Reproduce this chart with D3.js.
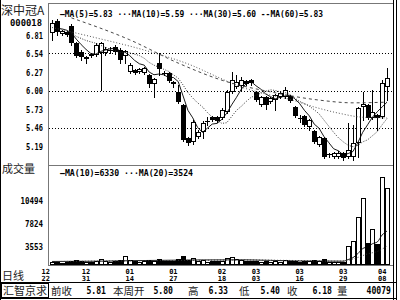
<!DOCTYPE html>
<html lang="zh">
<head>
<meta charset="UTF-8">
<script src="https://d3js.org/d3.v7.min.js"></script>
<title>深中冠A</title>
<style>
  body{margin:0;background:#fff;}
  svg{display:block;}
  .num{font-family:"DejaVu Sans Mono",monospace;font-weight:bold;fill:#000;}
  .cjk{font-family:"Noto Sans CJK SC",sans-serif;fill:#222;}
</style>
<script>
// daily candles, 12/22 .. 04/08
var open  = [6.84,7.01,6.82,6.85,6.94,6.69,6.56,6.46,6.53,6.52,6.55,6.55,6.58,6.63,6.59,6.50,6.27,6.30,6.27,6.26,
             6.23,6.09,6.40,6.26,6.26,6.12,5.98,5.79,5.31,5.25,5.32,5.39,5.54,5.61,5.61,5.60,5.69,5.98,6.05,6.07,
             6.14,6.15,5.98,5.79,5.90,5.83,5.86,5.90,5.90,5.92,5.76,5.60,5.63,5.47,5.41,5.20,5.31,5.06,5.03,5.03,
             5.09,5.03,5.03,5.23,5.76,5.79,5.60,5.64,5.61,6.05];
var close = [6.99,6.85,6.87,6.81,6.69,6.50,6.49,6.49,6.50,6.66,6.69,6.61,6.59,6.56,6.45,6.58,6.37,6.26,6.31,6.33,
             6.09,6.17,6.31,6.25,6.14,6.09,5.83,5.28,5.23,5.54,5.39,5.52,5.55,5.57,5.55,5.72,5.98,6.15,6.12,6.15,
             6.09,6.11,5.86,5.90,5.79,5.89,5.93,5.96,6.01,5.85,5.63,5.59,5.50,5.57,5.25,5.32,5.03,5.07,5.09,5.09,
             5.01,5.13,5.23,5.74,5.80,5.60,5.69,5.60,6.11,6.18];
var high  = [7.03,7.04,6.88,6.87,6.97,6.71,6.59,6.50,6.55,6.69,6.71,6.63,6.63,6.66,6.62,6.59,6.40,6.31,6.33,6.34,
             6.24,6.18,6.55,6.28,6.27,6.14,6.08,5.80,5.32,5.57,5.42,5.55,5.61,5.63,5.63,5.74,6.01,6.27,6.23,6.20,
             6.15,6.17,5.99,5.92,5.92,5.90,5.95,5.98,6.05,5.93,5.77,5.64,5.64,5.58,5.42,5.34,5.32,5.09,5.10,5.12,
             5.10,5.52,5.50,5.76,5.98,5.80,6.01,5.66,6.15,6.33];
var low   = [6.74,6.81,6.81,6.80,6.66,6.49,6.45,6.40,6.49,6.50,6.01,6.52,6.55,6.53,6.40,6.40,6.26,6.24,6.26,6.24,
             6.05,5.90,6.23,6.23,6.12,6.05,5.82,5.26,5.20,5.22,5.31,5.31,5.50,5.55,5.54,5.58,5.67,5.96,6.04,6.01,
             6.08,6.08,5.85,5.77,5.73,5.82,5.72,5.89,5.89,5.83,5.61,5.54,5.48,5.42,5.23,5.19,5.01,5.03,5.01,5.01,
             4.99,5.01,4.99,5.03,5.57,5.58,5.58,5.42,5.60,5.86];
var volume = [400,400,200,400,590,790,590,400,400,590,990,590,400,590,790,1580,790,590,400,590,
              790,590,990,590,590,590,990,1580,790,1180,590,790,400,590,590,590,1180,1380,990,790,
              590,590,590,400,590,400,590,400,790,590,590,400,590,590,790,590,990,400,400,400,
              400,3600,4400,8520,10730,4110,6710,3920,13160,11890];

var ma5  = [null,6.91,6.90,6.88,6.84,6.75,6.67,6.60,6.54,6.53,6.57,6.59,6.61,6.62,6.58,6.56,6.51,6.44,6.39,6.37,
            6.27,6.23,6.24,6.23,6.19,6.19,6.13,5.92,5.71,5.60,5.46,5.39,5.45,5.51,5.52,5.58,5.67,5.79,5.90,6.02,
            6.10,6.13,6.07,6.02,5.95,5.91,5.88,5.90,5.92,5.93,5.88,5.81,5.71,5.63,5.51,5.45,5.33,5.24,5.15,5.12,
            5.06,5.08,5.11,5.24,5.39,5.50,5.61,5.69,5.76,5.83];
var ma10 = [null,null,null,null,6.84,6.79,6.76,6.73,6.71,6.69,6.66,6.63,6.60,6.58,6.55,6.56,6.55,6.53,6.51,6.47,
            6.41,6.37,6.34,6.31,6.28,6.23,6.18,6.08,5.97,5.89,5.82,5.76,5.68,5.61,5.56,5.52,5.53,5.62,5.71,5.77,
            5.84,5.90,5.93,5.96,5.99,6.01,6.00,5.98,5.97,5.94,5.89,5.84,5.81,5.77,5.72,5.66,5.57,5.48,5.39,5.31,
            5.25,5.20,5.18,5.20,5.25,5.28,5.34,5.40,5.50,5.59];
// slow averages read at a few candles: [index, value]
var ma30 = [[0,6.92],[9,6.77],[19,6.59],[29,6.36],[34,6.20],[39,6.05],[44,5.95],[49,5.87],[54,5.76],[59,5.67],[64,5.61],[69,5.60]];
var ma60 = [[4,7.06],[16,6.74],[26,6.40],[35,6.15],[45,5.98],[55,5.86],[62,5.82],[69,5.83]];
var volMa10 = [[0,500],[10,560],[20,700],[30,800],[40,820],[50,600],[60,560],[61,880],[62,1260],[63,2050],[64,3040],[65,3400],[66,3970],[67,4300],[68,5600],[69,6330]];
var volMa20 = [[0,480],[19,650],[29,720],[39,800],[49,700],[59,560],[61,740],[63,1300],[65,2000],[67,2480],[69,3524]];

var priceTicks = [6.81,6.54,6.27,6.00,5.73,5.46,5.19];
var gridTicks  = [6.54,6.00,5.46];
var volTicks   = [10494,7824,3553];
var dateIdx    = [0,7,16,25,35,42,51,60,68];
var dateMonth  = ["12","12","01","01","02","03","03","03","04"];
var dateDay    = ["22","31","14","27","18","03","16","29","08"];

var priceLegend = "—MA(5)=5.83 ···MA(10)=5.59 ···MA(30)=5.60 --MA(60)=5.83";
var volLegend   = "—MA(10)=6330 ···MA(20)=3524";
var infoNames   = ["前收","本周开","高","低","收","量"];
var infoValues  = ["5.81","5.80","6.33","5.40","6.18","40079"];

function main(){
  var svg = d3.select("svg");
  var L = 48, R = 393, T = 3, B1 = 165, B2 = 265;

  var x  = d3.scaleLinear().domain([0, close.length - 1]).range([52, 387]);
  var y  = d3.scaleLinear().domain([5.19, 6.81]).range([146, 35]);
  var vy = d3.scaleLinear().domain([0, 3553, 7824, 10494, 14440]).range([264, 246, 223, 200, 166]);

  svg.append("rect").attr("width", 400).attr("height", 300).attr("fill", "#fff");

  // frame
  var frame = svg.append("g").attr("stroke", "#000").attr("shape-rendering", "crispEdges");
  frame.append("line").attr("x1", 0.5).attr("x2", 0.5).attr("y1", 0).attr("y2", 300);
  frame.append("line").attr("x1", R + 0.5).attr("x2", R + 0.5).attr("y1", 0).attr("y2", 300);
  frame.append("line").attr("x1", 396.5).attr("x2", 396.5).attr("y1", 0).attr("y2", 300);
  frame.append("line").attr("x1", L + 0.5).attr("x2", L + 0.5).attr("y1", T).attr("y2", B2).attr("stroke", "#777");
  frame.append("line").attr("x1", L).attr("x2", R).attr("y1", T + 0.5).attr("y2", T + 0.5).attr("stroke", "#777");
  frame.append("line").attr("x1", L).attr("x2", R).attr("y1", B1 + 0.5).attr("y2", B1 + 0.5).attr("stroke", "#777");
  frame.append("line").attr("x1", L).attr("x2", R).attr("y1", B2 + 0.5).attr("y2", B2 + 0.5).attr("stroke", "#777");
  frame.append("line").attr("x1", 0).attr("x2", 397).attr("y1", 282.5).attr("y2", 282.5);
  frame.append("line").attr("x1", 0).attr("x2", 397).attr("y1", 298.5).attr("y2", 298.5);

  // price grid
  svg.append("g").selectAll("line").data(gridTicks).enter().append("line")
    .attr("x1", L + 1).attr("x2", R)
    .attr("y1", function(d){ return Math.round(y(d)) + 0.5; })
    .attr("y2", function(d){ return Math.round(y(d)) + 0.5; })
    .attr("stroke", "#000").attr("stroke-dasharray", "1,2").attr("shape-rendering", "crispEdges");

  // price axis labels
  svg.append("g").selectAll("text").data(priceTicks).enter().append("text")
    .attr("class", "num").attr("font-size", 9.5)
    .attr("x", 43).attr("y", function(d){ return y(d) + 3.5; })
    .attr("text-anchor", "end").attr("textLength", 17).attr("lengthAdjust", "spacingAndGlyphs")
    .text(function(d){ return d.toFixed(2); });

  // volume axis labels
  svg.append("g").selectAll("text").data(volTicks).enter().append("text")
    .attr("class", "num").attr("font-size", 9.5)
    .attr("x", 43).attr("y", function(d){ return vy(d) + 3.5; })
    .attr("text-anchor", "end").attr("textLength", function(d){ return String(d).length * 4.5; })
    .attr("lengthAdjust", "spacingAndGlyphs")
    .text(function(d){ return d; });

  // candles
  var idx = d3.range(close.length);
  var cg = svg.append("g").attr("shape-rendering", "crispEdges");
  idx.forEach(function(i){
    var px = Math.round(x(i));
    var up = close[i] >= open[i];
    var top = Math.round(y(Math.max(open[i], close[i])));
    var bot = Math.round(y(Math.min(open[i], close[i])));
    cg.append("line").attr("x1", px + 0.5).attr("x2", px + 0.5)
      .attr("y1", Math.round(y(high[i]))).attr("y2", Math.round(y(low[i])) + 1)
      .attr("stroke", "#000");
    if (bot - top < 2) {
      cg.append("rect").attr("x", px - 2).attr("y", top).attr("width", 5).attr("height", 1).attr("fill", "#000");
    } else if (up) {
      cg.append("rect").attr("x", px - 1.5).attr("y", top + 0.5).attr("width", 4).attr("height", bot - top - 1)
        .attr("fill", "#fff").attr("stroke", "#000");
    } else {
      cg.append("rect").attr("x", px - 2).attr("y", top).attr("width", 5).attr("height", bot - top).attr("fill", "#000");
    }
  });

  // volume bars
  var vg = svg.append("g").attr("shape-rendering", "crispEdges");
  idx.forEach(function(i){
    var px = Math.round(x(i));
    var top = Math.round(vy(volume[i]));
    if (close[i] >= open[i]) {
      vg.append("rect").attr("x", px - 1.5).attr("y", top + 0.5).attr("width", 4).attr("height", Math.max(264 - top, 1))
        .attr("fill", "#fff").attr("stroke", "#000");
    } else {
      vg.append("rect").attr("x", px - 2).attr("y", top).attr("width", 5).attr("height", Math.max(265 - top, 1)).attr("fill", "#000");
    }
  });

  // moving averages
  var lineIdx = d3.line().defined(function(d){ return d != null; })
    .x(function(d, i){ return x(i); }).y(function(d){ return y(d); });
  var linePts = d3.line().curve(d3.curveMonotoneX)
    .x(function(d){ return x(d[0]); }).y(function(d){ return y(d[1]); });
  var volPts = d3.line().curve(d3.curveMonotoneX)
    .x(function(d){ return x(d[0]); }).y(function(d){ return vy(d[1]); });

  svg.append("path").attr("d", lineIdx(ma5)).attr("fill", "none").attr("stroke", "#000").attr("stroke-width", 0.9);
  svg.append("path").attr("d", lineIdx(ma10)).attr("fill", "none").attr("stroke", "#222").attr("stroke-width", 0.9).attr("stroke-dasharray", "1,1.5");
  svg.append("path").attr("d", linePts(ma30)).attr("fill", "none").attr("stroke", "#444").attr("stroke-width", 0.9).attr("stroke-dasharray", "1,2");
  svg.append("path").attr("d", linePts(ma60)).attr("fill", "none").attr("stroke", "#333").attr("stroke-width", 0.9).attr("stroke-dasharray", "3,3");
  svg.append("path").attr("d", volPts(volMa10)).attr("fill", "none").attr("stroke", "#000").attr("stroke-width", 0.9);
  svg.append("path").attr("d", volPts(volMa20)).attr("fill", "none").attr("stroke", "#333").attr("stroke-width", 0.9).attr("stroke-dasharray", "1,2");

  // legends
  svg.append("text").attr("class", "num").attr("font-size", 9.5).attr("x", 60).attr("y", 17)
    .attr("textLength", 263).attr("lengthAdjust", "spacingAndGlyphs").text(priceLegend);
  svg.append("text").attr("class", "num").attr("font-size", 9.5).attr("x", 60).attr("y", 176)
    .attr("textLength", 133).attr("lengthAdjust", "spacingAndGlyphs").text(volLegend);

  // titles
  svg.append("text").attr("class", "cjk").attr("font-size", 12).attr("x", 1).attr("y", 15).text("深中冠A");
  svg.append("text").attr("class", "num").attr("font-size", 9).attr("x", 10).attr("y", 26)
    .attr("textLength", 32).attr("lengthAdjust", "spacingAndGlyphs").text("000018");
  svg.append("text").attr("class", "cjk").attr("font-size", 11).attr("x", 2).attr("y", 173).text("成交量");
  svg.append("text").attr("class", "cjk").attr("font-size", 11).attr("x", 2).attr("y", 280).text("日线");

  // date labels
  var dg = svg.append("g").selectAll("g").data(dateIdx).enter().append("g");
  dg.append("text").attr("class", "num").attr("font-size", 7)
    .attr("x", function(d, i){ return i === 0 ? x(d) - 2 : x(d); })
    .attr("text-anchor", function(d, i){ return i === 0 ? "end" : "middle"; })
    .attr("y", 274).text(function(d, i){ return dateMonth[i]; });
  dg.append("text").attr("class", "num").attr("font-size", 7)
    .attr("x", function(d, i){ return i === 0 ? x(d) - 2 : x(d); })
    .attr("text-anchor", function(d, i){ return i === 0 ? "end" : "middle"; })
    .attr("y", 281).text(function(d, i){ return dateDay[i]; });

  // info row
  svg.append("rect").attr("x", 1.5).attr("y", 283.5).attr("width", 47).attr("height", 14)
    .attr("fill", "none").attr("stroke", "#000").attr("shape-rendering", "crispEdges");
  svg.append("text").attr("class", "cjk").attr("font-size", 11).attr("x", 3).attr("y", 295).text("汇智京求");
  var nameX = [51, 113, 188, 239, 287, 337];
  var valEnd = [106, 173, 228, 280, 332, 391];
  infoNames.forEach(function(s, i){
    svg.append("text").attr("class", "cjk").attr("font-size", 10.5).attr("x", nameX[i]).attr("y", 295).text(s);
    svg.append("text").attr("class", "num").attr("font-size", 10).attr("x", valEnd[i]).attr("y", 294)
      .attr("text-anchor", "end").attr("textLength", infoValues[i].length * 4.9)
      .attr("lengthAdjust", "spacingAndGlyphs").text(infoValues[i]);
  });
}
</script>
</head>
<body onload="main();">
<svg width="400" height="300"></svg>
</body>
</html>
